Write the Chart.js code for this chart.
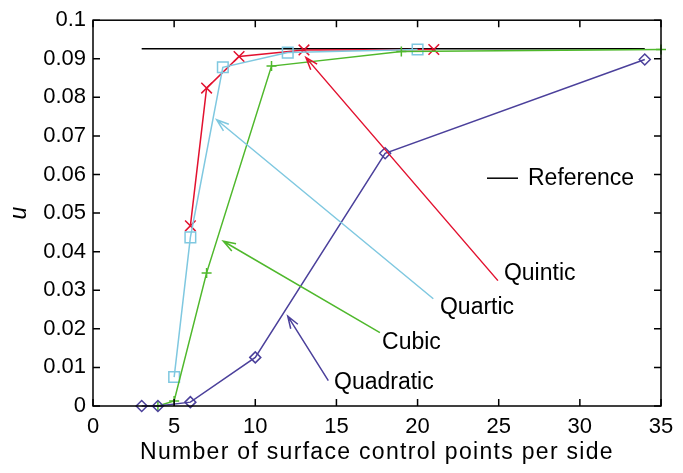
<!DOCTYPE html>
<html>
<head>
<meta charset="utf-8">
<script src="https://cdn.jsdelivr.net/npm/chart.js@4.4.0/dist/chart.umd.min.js"></script>
<style>
    html, body { margin: 0; padding: 0; background: #fff; }
</style>
</head>
<body>
<canvas id="chart" width="683" height="473"></canvas>
<script>
// Series data (x = control points per side, y = u)
const quadraticX = [3, 4, 6, 10, 18, 34];
const quadraticY = [0, 0, 0.001, 0.0126, 0.0655, 0.0898];
const cubicX = [4, 5, 7, 11, 19, 35];
const cubicY = [0, 0.0013, 0.0345, 0.0881, 0.0919, 0.0924];
const quarticX = [5, 6, 8, 12, 20];
const quarticY = [0.0075, 0.0437, 0.0878, 0.0916, 0.0924];
const quinticX = [6, 7, 9, 13, 21];
const quinticY = [0.0467, 0.0824, 0.0906, 0.0923, 0.0924];
const referenceX = [3, 34];
const referenceY = [0.0926, 0.0926];

// Axis ticks
const xTickValues = [0, 5, 10, 15, 20, 25, 30, 35];
const xTickLabels = ['0', '5', '10', '15', '20', '25', '30', '35'];
const yTickValues = [0, 0.01, 0.02, 0.03, 0.04, 0.05, 0.06, 0.07, 0.08, 0.09, 0.1];
const yTickLabels = ['0', '0.01', '0.02', '0.03', '0.04', '0.05', '0.06', '0.07', '0.08', '0.09', '0.1'];
const xTitle = 'Number of surface control points per side';

// Annotation labels: name, text anchor (x, y), arrow from (x, y) to (x, y)
const labelNames = ['Quintic', 'Quartic', 'Cubic', 'Quadratic'];
const labelX = [25.32, 21.38, 17.81, 14.85];
const labelY = [0.0343, 0.0254, 0.0163, 0.0061];
const arrowFromX = [24.95, 20.97, 17.68, 14.5];
const arrowFromY = [0.0325, 0.0278, 0.019, 0.0066];
const arrowToX = [13.12, 7.62, 8.03, 12.0];
const arrowToY = [0.0903, 0.0742, 0.0427, 0.0233];

const RED = '#e2112f';
const SKY = '#7fc8e0';
const GREEN = '#4fb82c';
const PURPLE = '#4b409b';
const labelColors = [RED, SKY, GREEN, PURPLE];

const FONT = '"Liberation Sans", Arial, Helvetica, sans-serif';

function toPoints(xs, ys) {
    return xs.map((x, i) => ({ x: x, y: ys[i] }));
}

function series(label, xs, ys, color, style, radius) {
    return {
        label: label,
        data: toPoints(xs, ys),
        showLine: true,
        borderColor: color,
        backgroundColor: 'rgba(0,0,0,0)',
        borderWidth: 1.5,
        pointStyle: style,
        pointRadius: radius,
        pointBorderColor: color,
        pointBorderWidth: 1.5,
        pointBackgroundColor: 'rgba(0,0,0,0)',
        clip: false
    };
}

// Frame, inward ticks, arrows, labels, legend and x title
const decorations = {
    id: 'decorations',
    afterDatasetsDraw(chart) {
        const ctx = chart.ctx;
        const xs = chart.scales.x;
        const ys = chart.scales.y;
        const a = chart.chartArea;
        ctx.save();

        // arrows + labels
        ctx.lineWidth = 1.5;
        labelNames.forEach((name, i) => {
            const x1 = xs.getPixelForValue(arrowFromX[i]);
            const y1 = ys.getPixelForValue(arrowFromY[i]);
            const x2 = xs.getPixelForValue(arrowToX[i]);
            const y2 = ys.getPixelForValue(arrowToY[i]);
            const ang = Math.atan2(y2 - y1, x2 - x1);
            const len = 13;
            const spread = 0.33;
            ctx.strokeStyle = labelColors[i];
            ctx.beginPath();
            ctx.moveTo(x1, y1);
            ctx.lineTo(x2, y2);
            ctx.moveTo(x2 - len * Math.cos(ang - spread), y2 - len * Math.sin(ang - spread));
            ctx.lineTo(x2, y2);
            ctx.lineTo(x2 - len * Math.cos(ang + spread), y2 - len * Math.sin(ang + spread));
            ctx.stroke();

            ctx.fillStyle = '#000';
            ctx.font = '23px ' + FONT;
            ctx.textAlign = 'left';
            ctx.textBaseline = 'middle';
            ctx.fillText(name, xs.getPixelForValue(labelX[i]), ys.getPixelForValue(labelY[i]));
        });

        // legend
        const ly = a.top + 158;
        ctx.strokeStyle = '#000';
        ctx.lineWidth = 1.5;
        ctx.beginPath();
        ctx.moveTo(a.right - 174, ly);
        ctx.lineTo(a.right - 143, ly);
        ctx.stroke();
        ctx.fillStyle = '#000';
        ctx.font = '23px ' + FONT;
        ctx.textAlign = 'left';
        ctx.textBaseline = 'middle';
        ctx.fillText('Reference', a.right - 133, ly);

        // x axis title (drawn here for the wider letter spacing)
        ctx.font = '23px ' + FONT;
        ctx.letterSpacing = '1.3px';
        ctx.textAlign = 'center';
        ctx.fillText(xTitle, (a.left + a.right) / 2, 453);
        ctx.letterSpacing = '0px';

        // frame
        ctx.strokeStyle = '#000';
        ctx.lineWidth = 1.5;
        ctx.strokeRect(a.left, a.top, a.right - a.left, a.bottom - a.top);

        // inward ticks
        const tl = 7;
        ctx.beginPath();
        xTickValues.forEach(v => {
            const px = xs.getPixelForValue(v);
            ctx.moveTo(px, a.bottom);
            ctx.lineTo(px, a.bottom - tl);
            ctx.moveTo(px, a.top);
            ctx.lineTo(px, a.top + tl);
        });
        yTickValues.forEach(v => {
            const py = ys.getPixelForValue(v);
            ctx.moveTo(a.left, py);
            ctx.lineTo(a.left + tl, py);
            ctx.moveTo(a.right, py);
            ctx.lineTo(a.right - tl, py);
        });
        ctx.stroke();
        ctx.restore();
    }
};

new Chart(document.getElementById('chart'), {
    type: 'scatter',
    data: {
        datasets: [
            series('Quadratic', quadraticX, quadraticY, PURPLE, 'rectRot', 5.5),
            series('Cubic', cubicX, cubicY, GREEN, 'cross', 5),
            series('Quartic', quarticX, quarticY, SKY, 'rect', 7.5),
            series('Quintic', quinticX, quinticY, RED, 'crossRot', 7.5),
            {
                label: 'Reference',
                data: toPoints(referenceX, referenceY),
                showLine: true,
                borderColor: '#000',
                borderWidth: 1.5,
                pointRadius: 0,
                clip: false
            }
        ]
    },
    options: {
        responsive: false,
        animation: false,
        layout: {
            padding: { left: 0, top: 15, right: 22, bottom: 0 }
        },
        plugins: {
            legend: { display: false },
            tooltip: { enabled: false }
        },
        scales: {
            x: {
                type: 'linear',
                min: 0,
                max: 35,
                grid: { display: false, drawTicks: false },
                border: { display: false },
                afterBuildTicks: s => { s.ticks = xTickValues.map(v => ({ value: v })); },
                afterFit: s => { s.height = 67; },
                ticks: {
                    padding: 8,
                    color: '#000',
                    font: { family: FONT, size: 22 },
                    maxRotation: 0,
                    callback: (v, i) => xTickLabels[i]
                },
                title: { display: false }
            },
            y: {
                type: 'linear',
                min: 0,
                max: 0.1,
                grid: { display: false, drawTicks: false },
                border: { display: false },
                afterBuildTicks: s => { s.ticks = yTickValues.map(v => ({ value: v })); },
                afterFit: s => { s.width = 93; },
                ticks: {
                    padding: 7,
                    color: '#000',
                    font: { family: FONT, size: 22 },
                    callback: (v, i) => yTickLabels[i]
                },
                title: {
                    display: true,
                    text: 'u',
                    color: '#000',
                    font: { family: FONT, size: 23, style: 'italic' },
                    padding: { top: 6, bottom: 0 }
                }
            }
        }
    },
    plugins: [decorations]
});
</script>
</body>
</html>
